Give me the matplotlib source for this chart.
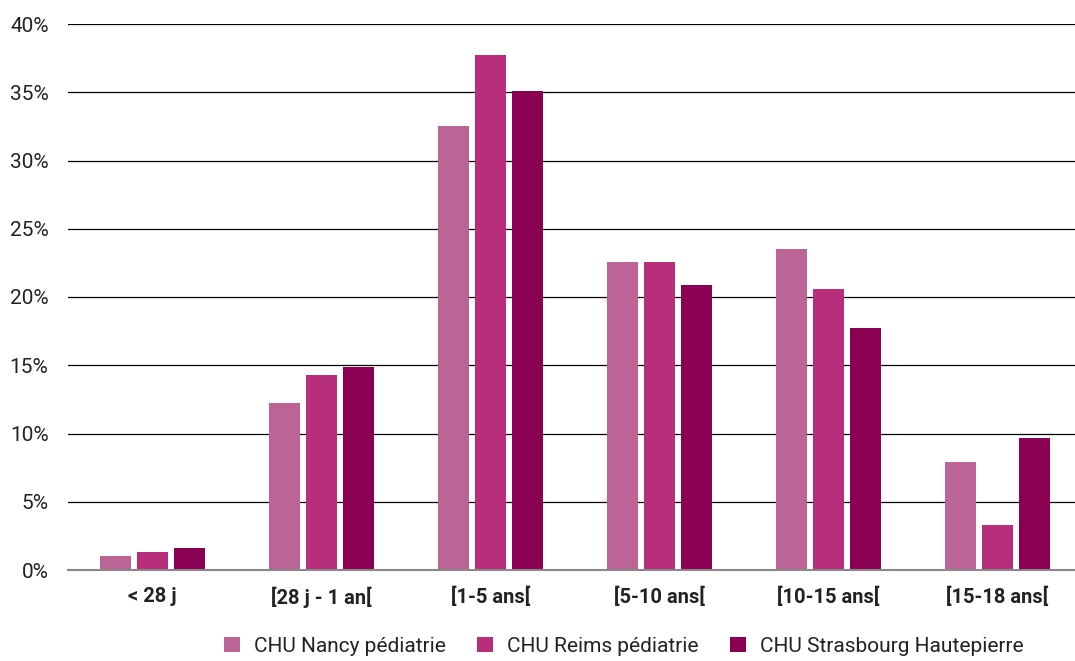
import numpy as np
import matplotlib.pyplot as plt

plt.rcParams['font.family'] = ['Roboto', 'DejaVu Sans']

categories = ["< 28 j", "[28 j - 1 an[", "[1-5 ans[", "[5-10 ans[", "[10-15 ans[", "[15-18 ans["]
nancy = [1.0, 12.2, 32.5, 22.6, 23.5, 7.9]
reims = [1.3, 14.3, 37.7, 22.6, 20.6, 3.3]
strasbourg = [1.6, 14.9, 35.1, 20.9, 17.7, 9.7]
series_names = ["CHU Nancy pédiatrie", "CHU Reims pédiatrie", "CHU Strasbourg Hautepierre"]
colors = ["#BC6496", "#B92E7A", "#8C0053"]

fig = plt.figure(figsize=(10.75, 6.61), dpi=100)
# axes slightly wider than the figure so group spacing matches
ax = fig.add_axes([68 / 1075, 1 - 570 / 661, (1082 - 68) / 1075, (570 - 24) / 661])

x = np.arange(len(categories))
w = 0.183
pitch = 0.219
for i, (vals, name, c) in enumerate(zip([nancy, reims, strasbourg], series_names, colors)):
    ax.bar(x + (i - 1) * pitch, vals, width=w, color=c, label=name, zorder=3)

ax.set_xlim(-0.5, len(categories) - 0.5)
ax.set_ylim(0, 40)
ax.set_yticks(range(0, 41, 5))
ax.set_yticklabels([f"{v}%" for v in range(0, 41, 5)], fontsize=15, color="#222222")
ax.set_xticks(x)
ax.set_xticklabels(categories, fontsize=14.5, fontweight="semibold", color="#222222")
ax.tick_params(axis="both", length=0)
ax.tick_params(axis="x", pad=12)
ax.tick_params(axis="y", pad=14)

ax.grid(axis="y", color="black", linewidth=0.9, zorder=0)
for s in ["top", "right", "left"]:
    ax.spines[s].set_visible(False)
ax.spines["bottom"].set_color("#888888")
ax.spines["bottom"].set_linewidth(1.5)
ax.spines["bottom"].set_zorder(4)

fig.legend(loc="center", bbox_to_anchor=(624 / 1075, 1 - 646 / 661), ncol=3, frameon=False,
           fontsize=15, handlelength=0.75, handleheight=0.75, columnspacing=1.5, handletextpad=0.7,
           labelcolor="#222222")

fig.savefig("out.png", dpi=100)
